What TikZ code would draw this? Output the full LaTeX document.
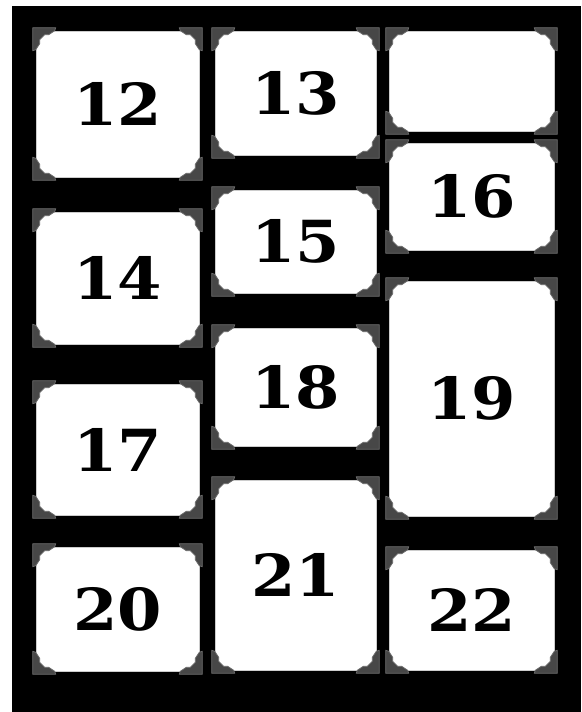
\documentclass[tikz,border=0pt]{standalone}
\usepackage{fontspec}
\usepackage{tikz}
\newfontfamily\platefont[FakeStretch=1.1]{DejaVu Serif}
\definecolor{mountgray}{HTML}{474747}
\definecolor{mountedge}{HTML}{6A6A6A}

\begin{document}
\begin{tikzpicture}[
    x=1pt, y=-1pt,
    card/.style={
        fill=white,
        draw=black!20,
        line width=0.6pt,
        inner sep=0pt,
        font=\platefont\bfseries\fontsize{58}{58}\selectfont
    },
    mount/.pic={
        \filldraw[fill=mountgray, draw=mountedge, line width=0.8pt, line join=round]
            (0,0) -- (23,0) -- (22,3) -- (16,7) -- (12,7)
            -- (7,12) -- (7,16) -- (3,22) -- (0,23) -- cycle;
    }
]

\useasboundingbox (0,0) rectangle (581,712);

% ============================================================
% Black board
% ============================================================

\fill[black] (12,6) rectangle (581,712);

% ============================================================
% Left column
% ============================================================

\node[card, minimum width=163pt, minimum height=146pt] (p12) at (117.5,104) {12};
\node[card, minimum width=163pt, minimum height=132pt] (p14) at (117.5,278) {14};
\node[card, minimum width=163pt, minimum height=131pt] (p17) at (117.5,449.5) {17};
\node[card, minimum width=163pt, minimum height=124pt] (p20) at (117.5,609) {20};

% ============================================================
% Middle column
% ============================================================

\node[card, minimum width=161pt, minimum height=124pt] (p13) at (295.5,93) {13};
\node[card, minimum width=161pt, minimum height=103pt] (p15) at (295.5,241.5) {15};
\node[card, minimum width=161pt, minimum height=118pt] (p18) at (295.5,387) {18};
\node[card, minimum width=161pt, minimum height=190pt] (p21) at (295.5,575) {21};

% ============================================================
% Right column
% ============================================================

\node[card, minimum width=165pt, minimum height=100pt] (pblank) at (471.5,81) {};
\node[card, minimum width=165pt, minimum height=107pt] (p16) at (471.5,196.5) {16};
\node[card, minimum width=165pt, minimum height=235pt] (p19) at (471.5,398.5) {19};
\node[card, minimum width=165pt, minimum height=120pt] (p22) at (471.5,610) {22};

% ============================================================
% Photo corners
% ============================================================

\foreach \p in {p12,p14,p17,p20,p13,p15,p18,p21,pblank,p16,p19,p22} {
    \pic at ([shift={(-3,-3)}]\p.north west) {mount};
    \pic[xscale=-1] at ([shift={(3,-3)}]\p.north east) {mount};
    \pic[yscale=-1] at ([shift={(-3,3)}]\p.south west) {mount};
    \pic[xscale=-1, yscale=-1] at ([shift={(3,3)}]\p.south east) {mount};
}

\end{tikzpicture}
\end{document}
